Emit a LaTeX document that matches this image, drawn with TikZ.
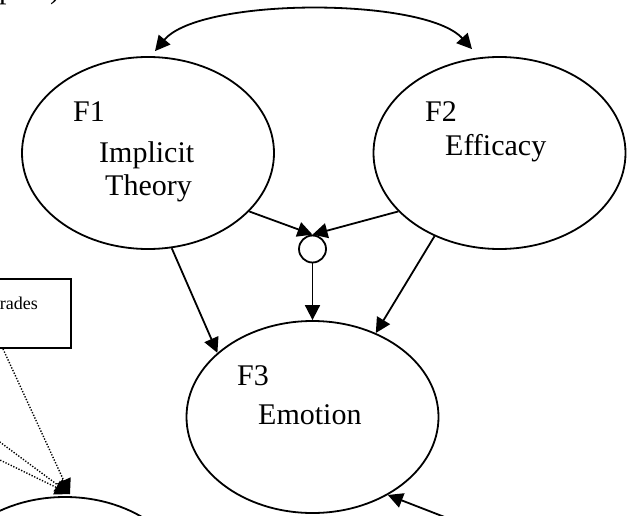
\documentclass[tikz,border=0pt]{standalone}
\usepackage{fontspec}
\setmainfont{Liberation Serif}
\usetikzlibrary{shapes.geometric,arrows.meta,calc}

\begin{document}
\begin{tikzpicture}[x=1pt,y=-1pt,
  latent/.style={draw,ellipse,line width=1.8pt,minimum width=252pt,minimum height=192pt,inner sep=0pt},
  junction/.style={draw,circle,line width=1.8pt,minimum size=27pt,inner sep=0pt},
  obsbox/.style={draw,rectangle,line width=1.8pt,minimum width=151pt,minimum height=69pt,inner sep=0pt},
  lbl/.style={anchor=base west,inner sep=0pt,font=\fontsize{30}{36}\selectfont},
  small/.style={anchor=base east,inner sep=0pt,font=\fontsize{18}{22}\selectfont},
  path/.style={line width=1.8pt,-{Triangle[length=15pt,width=15pt]}},
  dpath/.style={line width=1.8pt,{Triangle[length=15pt,width=15pt]}-{Triangle[length=15pt,width=15pt]}},
  loading/.style={line width=1.4pt,dash pattern=on 1.3pt off 1.6pt,-{Triangle[length=15pt,width=15pt]}}]

\useasboundingbox (0,0) rectangle (629,516);

% running text cut by the top edge
\node[lbl] (frag1) at (-1,-1.5) {p.};
\node[lbl] (frag2) at (50,-1.5) {)};

% latent factors
\node[latent] (F1) at (148,153) {};
\node[latent] (F2) at (499.5,153) {};
\node[latent] (F3) at (312.5,417) {};
\node[latent] (F4) at (65,593) {};
\node[junction] (C) at (312.5,249) {};

\node[lbl] (F1a) at (73,122) {F1};
\node[lbl] (F1b) at (99,162) {Implicit};
\node[lbl] (F1c) at (105,195) {Theory};
\node[lbl] (F2a) at (425,122) {F2};
\node[lbl] (F2b) at (445,155) {Efficacy};
\node[lbl] (F3a) at (237,385) {F3};
\node[lbl] (F3b) at (258,424) {Emotion};

% observed indicator
\node[obsbox] (G) at (-4.5,313.5) {};
\node[small] (Gt) at (38,309.5) {Grades};

% covariance between F1 and F2
\coordinate (cl) at ($(F1.north)+(7,-5)$);
\coordinate (cr) at ($(F2.north)+(-27.5,-7)$);
\draw[dpath] (cl) .. controls (200,-3) and (425,-3) .. (cr);

% structural paths
\draw[path] (F1.-30) -- (C.north);
\draw[path] (F2.210) -- (C.north);
\draw[path] (C) -- (F3);
\draw[path] (F1.-76) -- (F3.146);
\draw[path] (F2.232.7) -- (F3.53.4);

% disturbance on F3
\coordinate (e3) at (460,523);
\draw[path] (e3) -- (F3.-46.7);

% indicator loadings
\coordinate (gs) at ($(G.south)+(7.5,0)$);
\coordinate (d2) at (-5,438.4);
\coordinate (d3) at (-5,457.6);
\coordinate (tip) at ($(F4.north)+(5,-2)$);
\draw[loading] (gs) -- (tip);
\draw[loading] (d2) -- (tip);
\draw[loading] (d3) -- (tip);
\end{tikzpicture}
\end{document}
